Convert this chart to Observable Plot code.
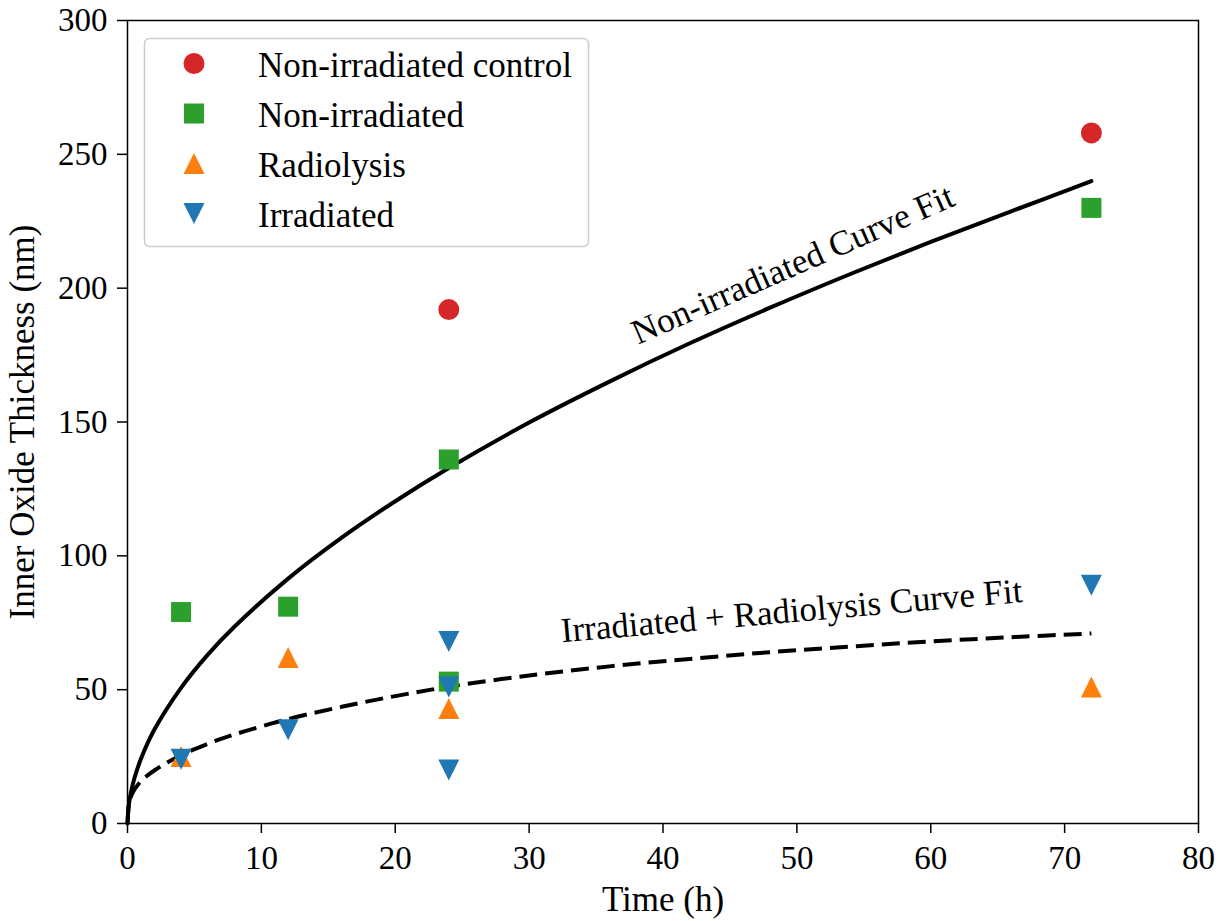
<!DOCTYPE html>
<html>
<head>
<meta charset="utf-8">
<script src="https://cdn.jsdelivr.net/npm/d3@7"></script>
<script src="https://cdn.jsdelivr.net/npm/@observablehq/plot@0.6"></script>
<style>
  html, body { margin: 0; padding: 0; background: #fff; }
  #wrap { position: relative; width: 1228px; height: 921px; }
  #wrap svg { display: block; }
  #legend { position: absolute; left: 0; top: 0; }
</style>
</head>
<body>
<div id="wrap"></div>
<script>
// ---- data ----
const seriesNames = ["Non-irradiated control", "Non-irradiated", "Radiolysis", "Irradiated"];
const seriesColors = ["#d62728", "#2ca02c", "#ff7f0e", "#1f77b4"];

const controlTime = [24, 72];
const controlThick = [192, 258];

const nonIrrTime = [4, 12, 24, 24, 72];
const nonIrrThick = [79, 81, 136, 53, 230];

const radioTime = [4, 12, 24, 72];
const radioThick = [25, 62, 43, 51];

const irrTime = [4, 12, 24, 24, 24, 72];
const irrThick = [24, 35, 68, 51, 20, 89];

// curve fits, points
const fitSolidTime = [0, 0.1, 0.25, 0.5, 1, 2, 4, 6, 8, 12, 16, 20, 24, 30, 36, 42, 48, 54, 60, 66, 72];
const fitSolidThick = [0, 7, 11.4, 16.6, 24.1, 35, 50.7, 63.1, 73.6, 91.5, 106.8, 120.4, 132.8, 149.8, 165.1, 179.4, 192.7, 205.3, 217.3, 228.7, 240];

const fitDashTime = [0, 0.1, 0.25, 0.5, 1, 2, 4, 6, 8, 12, 16, 20, 24, 30, 36, 42, 48, 54, 60, 66, 72];
const fitDashThick = [0, 7, 10, 12.5, 15.8, 19.8, 25.5, 29.8, 33.3, 39, 43.6, 47.6, 51.1, 55.3, 58.7, 61.5, 64, 66.1, 68, 69.6, 71];

const xTicks = [0, 10, 20, 30, 40, 50, 60, 70, 80];
const yTicks = [0, 50, 100, 150, 200, 250, 300];

const annotTexts = ["Non-irradiated Curve Fit", "Irradiated + Radiolysis Curve Fit"];
const annotX = [49.7, 49.6];
const annotY = [208.8, 79.4];
const annotAngle = [-23.7, -5.0];

// ---- build tables ----
const zipPts = (t, v) => t.map((d, i) => ({t: d, v: v[i]}));
const control = zipPts(controlTime, controlThick);
const nonIrr = zipPts(nonIrrTime, nonIrrThick);
const radio = zipPts(radioTime, radioThick);
const irr = zipPts(irrTime, irrThick);
const fitSolid = zipPts(fitSolidTime, fitSolidThick);
const fitDash = zipPts(fitDashTime, fitDashThick);
const annots = annotTexts.map((s, i) => ({s, x: annotX[i], y: annotY[i], a: annotAngle[i]}));

// matplotlib-like marker shapes (bbox-centred)
const symSquare = {draw(ctx, size) { const h = Math.sqrt(size / Math.PI); ctx.rect(-h, -h, 2 * h, 2 * h); }};
const symTriUp = {draw(ctx, size) { const h = Math.sqrt(size / Math.PI); ctx.moveTo(0, -h); ctx.lineTo(h, h); ctx.lineTo(-h, h); ctx.closePath(); }};
const symTriDown = {draw(ctx, size) { const h = Math.sqrt(size / Math.PI); ctx.moveTo(0, h); ctx.lineTo(h, -h); ctx.lineTo(-h, -h); ctx.closePath(); }};
const symbols = ["circle", symSquare, symTriUp, symTriDown];
const radii = [10.5, 10, 10.5, 10.5];

const FONT = "'Liberation Serif', 'Times New Roman', Times, serif";

const chart = Plot.plot({
  width: 1228,
  height: 921,
  marginLeft: 127,
  marginRight: 30,
  marginTop: 20,
  marginBottom: 98,
  style: {fontFamily: FONT, color: "black", background: "white"},
  x: {domain: [0, 80]},
  y: {domain: [0, 300]},
  marks: [
    Plot.axisX({ticks: xTicks, tickSize: 10, tickPadding: 12, fontSize: 33, strokeWidth: 1.5, label: null, tickFormat: d => String(d)}),
    Plot.axisY({ticks: yTicks, tickSize: 10, tickPadding: 10, fontSize: 33, strokeWidth: 1.5, label: null, tickFormat: d => String(d)}),
    Plot.text(["Time (h)"], {frameAnchor: "bottom", dy: 76, fontSize: 35, text: d => d, textAnchor: "middle", lineAnchor: "middle"}),
    Plot.text(["Inner Oxide Thickness (nm)"], {frameAnchor: "left", dx: -105, rotate: -90, fontSize: 35, text: d => d, textAnchor: "middle", lineAnchor: "middle"}),
    Plot.line(fitSolid, {x: "t", y: "v", stroke: "black", strokeWidth: 4, curve: "catmull-rom"}),
    Plot.line(fitDash, {x: "t", y: "v", stroke: "black", strokeWidth: 4, strokeDasharray: "18,8", strokeLinecap: "butt", curve: "catmull-rom"}),
    Plot.text(annots, {x: "x", y: "y", text: "s", rotate: "a", fontSize: 35, lineAnchor: "middle", textAnchor: "middle"}),
    Plot.dot(control, {x: "t", y: "v", r: radii[0], symbol: symbols[0], fill: seriesColors[0], stroke: null}),
    Plot.dot(nonIrr, {x: "t", y: "v", r: radii[1], symbol: symbols[1], fill: seriesColors[1], stroke: null}),
    Plot.dot(radio, {x: "t", y: "v", r: radii[2], symbol: symbols[2], fill: seriesColors[2], stroke: null}),
    Plot.dot(irr, {x: "t", y: "v", r: radii[3], symbol: symbols[3], fill: seriesColors[3], stroke: null}),
    Plot.frame({stroke: "black", strokeWidth: 1.5})
  ]
});

const wrap = document.getElementById("wrap");
wrap.appendChild(chart);

// ---- legend overlay ----
const lg = d3.select(wrap).append("svg")
  .attr("id", "legend")
  .attr("width", 1228).attr("height", 921)
  .style("pointer-events", "none");
lg.append("rect")
  .attr("x", 144.5).attr("y", 38.5).attr("width", 444).attr("height", 208)
  .attr("rx", 5).attr("ry", 5)
  .attr("fill", "rgba(255,255,255,0.85)")
  .attr("stroke", "#cccccc").attr("stroke-width", 1.5);
const rowY = [63.5, 113.5, 163.5, 213.5];
seriesNames.forEach((name, i) => {
  const g = lg.append("g");
  const size = Math.PI * radii[i] * radii[i];
  const symObj = typeof symbols[i] === "string" ? d3.symbolCircle : symbols[i];
  g.append("path")
    .attr("transform", `translate(194,${rowY[i]})`)
    .attr("d", d3.symbol(symObj, size)())
    .attr("fill", seriesColors[i]);
  g.append("text")
    .attr("x", 258).attr("y", rowY[i] + 13)
    .attr("font-family", FONT).attr("font-size", 35)
    .attr("fill", "black")
    .text(name);
});
</script>
</body>
</html>
